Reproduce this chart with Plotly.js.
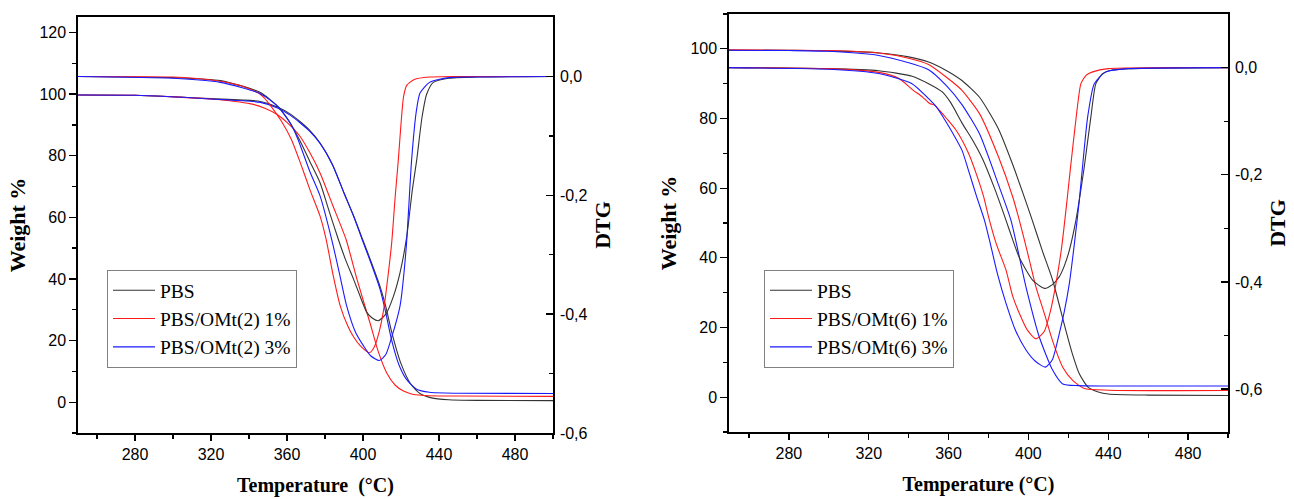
<!DOCTYPE html>
<html>
<head>
<meta charset="utf-8">
<script src="https://cdn.plot.ly/plotly-3.0.1.min.js"></script>
<style>html,body{margin:0;padding:0;background:#fff;}#chart{width:1294px;height:499px;}</style>
</head>
<body>
<div id="chart"></div>
<script>
// ---------- Series names ----------
const seriesNamesA = ["PBS", "PBS/OMt(2) 1%", "PBS/OMt(2) 3%"];
const seriesNamesB = ["PBS", "PBS/OMt(6) 1%", "PBS/OMt(6) 3%"];

// ---------- Panel A (OMt(2)) : TGA weight % ----------
const A_tga_pbs_T = [250, 280, 320, 346, 355, 362, 367, 372, 377.4, 384, 390, 395, 399.4, 404, 409, 412, 415, 420, 425, 430, 436, 445, 460, 500];
const A_tga_pbs_W = [99.7, 99.6, 98.5, 97.6, 95.8, 93.4, 91.0, 88.2, 84.1, 77.0, 67.9, 60.5, 53.5, 46.0, 37.5, 31.0, 23.0, 12.5, 6.0, 2.8, 1.4, 0.8, 0.6, 0.5];
const A_tga_1_T = [250, 280, 320, 341, 348, 355, 360, 366.8, 372, 377.4, 384, 391.1, 397, 403.7, 408, 412.5, 417, 421.3, 426, 435, 450, 500];
const A_tga_1_W = [99.7, 99.6, 98.4, 96.8, 95.5, 93.3, 90.8, 86.3, 81.0, 74.4, 64.0, 52.8, 39.5, 25.7, 16.5, 9.5, 5.5, 3.6, 2.6, 2.1, 2.0, 1.9];
const A_tga_3_T = [250, 280, 320, 346, 355, 362, 367, 372, 377.4, 384, 390, 395, 399.4, 404, 409, 412, 415, 419, 423, 428, 435, 450, 500];
const A_tga_3_W = [99.7, 99.6, 98.4, 97.3, 95.5, 93.0, 90.6, 87.9, 84.0, 77.0, 67.9, 60.5, 53.0, 45.5, 36.6, 29.0, 20.3, 12.0, 7.3, 4.3, 3.2, 2.9, 2.8];

// ---------- Panel A : DTG ----------
const A_dtg_pbs_T = [250, 300, 325, 346, 355, 360, 366.5, 372, 377.4, 382, 387, 391, 395, 398.5, 402, 405, 408.1, 412, 416, 419.5, 423, 426, 428.3, 431, 433.5, 437, 445, 460, 500];
const A_dtg_pbs_D = [0, -0.002, -0.007, -0.027, -0.05, -0.07, -0.106, -0.143, -0.179, -0.225, -0.274, -0.31, -0.341, -0.37, -0.397, -0.407, -0.411, -0.40, -0.37, -0.33, -0.27, -0.19, -0.14, -0.07, -0.03, -0.01, -0.003, -0.001, 0];
const A_dtg_1_T = [250, 300, 320, 335, 345, 348, 352, 357, 362.3, 367, 372, 377.4, 380.6, 384, 388, 392, 395, 398.5, 403.4, 406, 408.5, 411, 413, 415.1, 417, 418.6, 420, 421.3, 423, 427, 435, 450, 500];
const A_dtg_1_D = [0, -0.001, -0.006, -0.015, -0.028, -0.036, -0.052, -0.075, -0.106, -0.145, -0.19, -0.235, -0.274, -0.33, -0.386, -0.42, -0.438, -0.453, -0.465, -0.455, -0.43, -0.39, -0.34, -0.28, -0.2, -0.14, -0.08, -0.035, -0.015, -0.005, -0.001, 0, 0];
const A_dtg_3_T = [250, 300, 325, 346, 355, 362, 365.8, 372, 377.4, 383.5, 387.5, 391.4, 396, 400.2, 404, 408.6, 412, 415, 419.5, 422.7, 425.6, 428, 430, 435, 445, 460, 500];
const A_dtg_3_D = [0, -0.003, -0.01, -0.029, -0.05, -0.08, -0.106, -0.16, -0.201, -0.274, -0.33, -0.386, -0.43, -0.453, -0.47, -0.478, -0.468, -0.44, -0.386, -0.29, -0.14, -0.06, -0.028, -0.01, -0.002, -0.001, 0];

// ---------- Panel B (OMt(6)) : TGA weight % ----------
const B_tga_pbs_T = [250, 280, 300, 325, 340, 350, 358.8, 366.7, 375.5, 385, 392, 397, 402, 407, 412.2, 418.8, 422, 425.5, 430, 435, 440, 460, 500];
const B_tga_pbs_W = [99.6, 99.6, 99.4, 98.8, 97.7, 96.2, 93.8, 90.9, 86.1, 77.0, 67.0, 59.0, 50.7, 42.0, 33.5, 19.1, 12.5, 6.7, 2.8, 1.5, 0.9, 0.6, 0.5];
const B_tga_1_T = [250, 280, 300, 325, 340, 350, 358.8, 366.7, 375.5, 385, 392.2, 395.5, 400, 403.8, 408, 412.2, 417.2, 422.2, 428, 440, 500];
const B_tga_1_W = [99.7, 99.6, 99.5, 98.8, 97.3, 95.5, 91.9, 88.1, 81.4, 69.0, 57.4, 50.7, 40.5, 31.6, 24.0, 16.0, 8.6, 4.8, 2.5, 2.0, 1.9];
const B_tga_3_T = [250, 280, 300, 325, 340, 350, 358.8, 366.7, 375.5, 385, 391.3, 398.8, 405.5, 412.2, 417.2, 425, 440, 500];
const B_tga_3_W = [99.6, 99.5, 99.3, 98.1, 96.0, 94.0, 89.5, 84.0, 75.6, 61.0, 50.7, 31.6, 17.2, 7.7, 3.8, 3.3, 3.2, 3.2];

// ---------- Panel B : DTG ----------
const B_dtg_pbs_T = [250, 300, 325, 341.7, 350, 356.7, 361, 367, 372, 377, 383, 388.8, 392.2, 395.5, 402.2, 408, 412, 415.5, 418, 420.5, 423.8, 426, 428, 431.3, 433.8, 437, 440.5, 450, 500];
const B_dtg_pbs_D = [0, -0.002, -0.006, -0.016, -0.03, -0.045, -0.065, -0.105, -0.135, -0.17, -0.225, -0.285, -0.322, -0.355, -0.397, -0.412, -0.405, -0.39, -0.37, -0.341, -0.285, -0.235, -0.185, -0.092, -0.03, -0.012, -0.006, -0.002, 0];
const B_dtg_1_T = [250, 300, 325, 335, 342.2, 347, 350.5, 353, 355.5, 359, 363.8, 370, 375.5, 377.5, 380.5, 384, 388.8, 392, 395.5, 399.5, 403.8, 408, 411, 413.8, 416.5, 419, 421, 423, 425, 426.3, 429, 432.2, 440, 500];
const B_dtg_1_D = [0, -0.002, -0.009, -0.02, -0.042, -0.055, -0.067, -0.07, -0.08, -0.095, -0.117, -0.16, -0.216, -0.24, -0.285, -0.33, -0.378, -0.425, -0.459, -0.49, -0.506, -0.492, -0.455, -0.403, -0.34, -0.26, -0.19, -0.123, -0.06, -0.03, -0.014, -0.008, -0.002, 0];
const B_dtg_3_T = [250, 300, 325, 341.7, 350, 353.8, 356.7, 362.2, 366.7, 370.5, 374, 378, 380.5, 384.5, 388.8, 393.5, 398.8, 403.5, 408.5, 412, 415.5, 418, 420.5, 423, 425.5, 427.5, 429.7, 433, 438.8, 450, 500];
const B_dtg_3_D = [0, -0.003, -0.011, -0.03, -0.058, -0.073, -0.089, -0.123, -0.154, -0.198, -0.24, -0.285, -0.322, -0.385, -0.44, -0.49, -0.527, -0.548, -0.559, -0.545, -0.496, -0.455, -0.403, -0.33, -0.248, -0.17, -0.092, -0.03, -0.008, -0.002, 0];

// ---------- Tick labels ----------
const xTickVals = [280, 320, 360, 400, 440, 480];
const xTickText = ["280", "320", "360", "400", "440", "480"];
const dtgTickVals = [0, -0.2, -0.4, -0.6];
const dtgTickText = ["0,0", "-0,2", "-0,4", "-0,6"];
const dtgMinorVals = [-0.1, -0.3, -0.5];

// ---------- Styles ----------
const colors = ["#333333", "#ff1a1a", "#1a1aff"];
const lineW = 1.1;

function tr(x, y, xa, ya, ci, name, legendId, show) {
  return {
    type: "scatter", mode: "lines", x: x, y: y, xaxis: xa, yaxis: ya,
    name: name, legend: legendId, showlegend: show,
    line: {color: colors[ci], width: lineW, shape: "spline", smoothing: 0.6},
    hoverinfo: "skip"
  };
}

const traces = [
  // Panel A TGA (legend)
  tr(A_tga_pbs_T, A_tga_pbs_W, "x", "y", 0, seriesNamesA[0], "legend", true),
  tr(A_tga_1_T, A_tga_1_W, "x", "y", 1, seriesNamesA[1], "legend", true),
  tr(A_tga_3_T, A_tga_3_W, "x", "y", 2, seriesNamesA[2], "legend", true),
  // Panel A DTG
  tr(A_dtg_pbs_T, A_dtg_pbs_D, "x", "y2", 0, seriesNamesA[0] + " DTG", "legend", false),
  tr(A_dtg_1_T, A_dtg_1_D, "x", "y2", 1, seriesNamesA[1] + " DTG", "legend", false),
  tr(A_dtg_3_T, A_dtg_3_D, "x", "y2", 2, seriesNamesA[2] + " DTG", "legend", false),
  // Panel B TGA (legend2)
  tr(B_tga_pbs_T, B_tga_pbs_W, "x2", "y3", 0, seriesNamesB[0], "legend2", true),
  tr(B_tga_1_T, B_tga_1_W, "x2", "y3", 1, seriesNamesB[1], "legend2", true),
  tr(B_tga_3_T, B_tga_3_W, "x2", "y3", 2, seriesNamesB[2], "legend2", true),
  // Panel B DTG
  tr(B_dtg_pbs_T, B_dtg_pbs_D, "x2", "y4", 0, seriesNamesB[0] + " DTG", "legend2", false),
  tr(B_dtg_1_T, B_dtg_1_D, "x2", "y4", 1, seriesNamesB[1] + " DTG", "legend2", false),
  tr(B_dtg_3_T, B_dtg_3_D, "x2", "y4", 2, seriesNamesB[2] + " DTG", "legend2", false)
];

const W = 1294, H = 499;
const tickFont = {family: "Liberation Sans, Arial, sans-serif", size: 16, color: "#000"};
const titleFont = {family: "Liberation Serif, Times New Roman, serif", size: 22, color: "#000", weight: "bold"};
const xTitleFont = {family: "Liberation Serif, Times New Roman, serif", size: 20, color: "#000", weight: "bold"};
const legendFont = {family: "Liberation Serif, Times New Roman, serif", size: 19.5, color: "#000"};

function xAxis(dom, anchor, title) {
  return {
    domain: dom, anchor: anchor, range: [250, 500], autorange: false,
    tickmode: "array", tickvals: xTickVals, ticktext: xTickText,
    ticks: "outside", ticklen: 6, tickwidth: 1.3, tickcolor: "#000",
    minor: {dtick: 20, tick0: 260, ticks: "outside", ticklen: 4, tickwidth: 1.3, tickcolor: "#000", showgrid: false},
    showline: true, linecolor: "#000", linewidth: 1.7, mirror: true,
    showgrid: false, zeroline: false, tickfont: tickFont,
    title: {text: title, font: xTitleFont, standoff: 16}
  };
}
function wAxis(dom, anchor, range, ticks) {
  return {
    domain: dom, anchor: anchor, range: range, autorange: false,
    tickmode: "array", tickvals: ticks, ticktext: ticks.map(String),
    ticks: "outside", ticklen: 7, tickwidth: 1.3, tickcolor: "#000",
    minor: {dtick: 10, tick0: 0, ticks: "outside", ticklen: 4, tickwidth: 1.3, tickcolor: "#000", showgrid: false},
    showline: true, linecolor: "#000", linewidth: 1.7,
    showgrid: false, zeroline: false, tickfont: tickFont,
    title: {text: "Weight %", font: titleFont, standoff: 8}
  };
}
function dAxis(overlay, anchor, range) {
  return {
    overlaying: overlay, anchor: anchor, side: "right", range: range, autorange: false,
    tickmode: "array", tickvals: dtgTickVals, ticktext: dtgTickText,
    ticks: "inside", ticklen: 7, tickwidth: 1.3, tickcolor: "#000",
    minor: {tickmode: "array", tickvals: dtgMinorVals, ticks: "inside", ticklen: 4, tickwidth: 1.3, tickcolor: "#000", showgrid: false},
    showline: true, linecolor: "#000", linewidth: 1.7,
    showgrid: false, zeroline: false, tickfont: tickFont, ticklabelstandoff: 2,
    title: {text: "DTG", font: titleFont, standoff: 8}
  };
}

const domAx = [78 / W, 553 / W], domAy = [(H - 433) / H, (H - 17) / H];
const domBx = [729 / W, 1228 / W], domBy = [(H - 432) / H, (H - 14) / H];

const layout = {
  width: W, height: H,
  margin: {l: 0, r: 0, t: 0, b: 0},
  paper_bgcolor: "#fff", plot_bgcolor: "#fff",
  hovermode: false,
  xaxis: xAxis(domAx, "y", "Temperature  (°C)"),
  yaxis: wAxis(domAy, "x", [-10, 125], [0, 20, 40, 60, 80, 100, 120]),
  yaxis2: dAxis("y", "x", [-0.6, 0.1]),
  xaxis2: xAxis(domBx, "y3", "Temperature (°C)"),
  yaxis3: wAxis(domBy, "x2", [-10, 110], [0, 20, 40, 60, 80, 100]),
  yaxis4: dAxis("y3", "x2", [-0.68, 0.1]),
  legend: {
    x: 107 / W, y: 1 - 270 / H, xanchor: "left", yanchor: "top",
    bgcolor: "#fff", bordercolor: "#808080", borderwidth: 1,
    font: legendFont, tracegroupgap: 0, traceorder: "normal", itemwidth: 42
  },
  legend2: {
    x: 764 / W, y: 1 - 270 / H, xanchor: "left", yanchor: "top",
    bgcolor: "#fff", bordercolor: "#808080", borderwidth: 1,
    font: legendFont, tracegroupgap: 0, traceorder: "normal", itemwidth: 42
  }
};

Plotly.newPlot("chart", traces, layout, {staticPlot: true, displayModeBar: false, responsive: false});
</script>
</body>
</html>
